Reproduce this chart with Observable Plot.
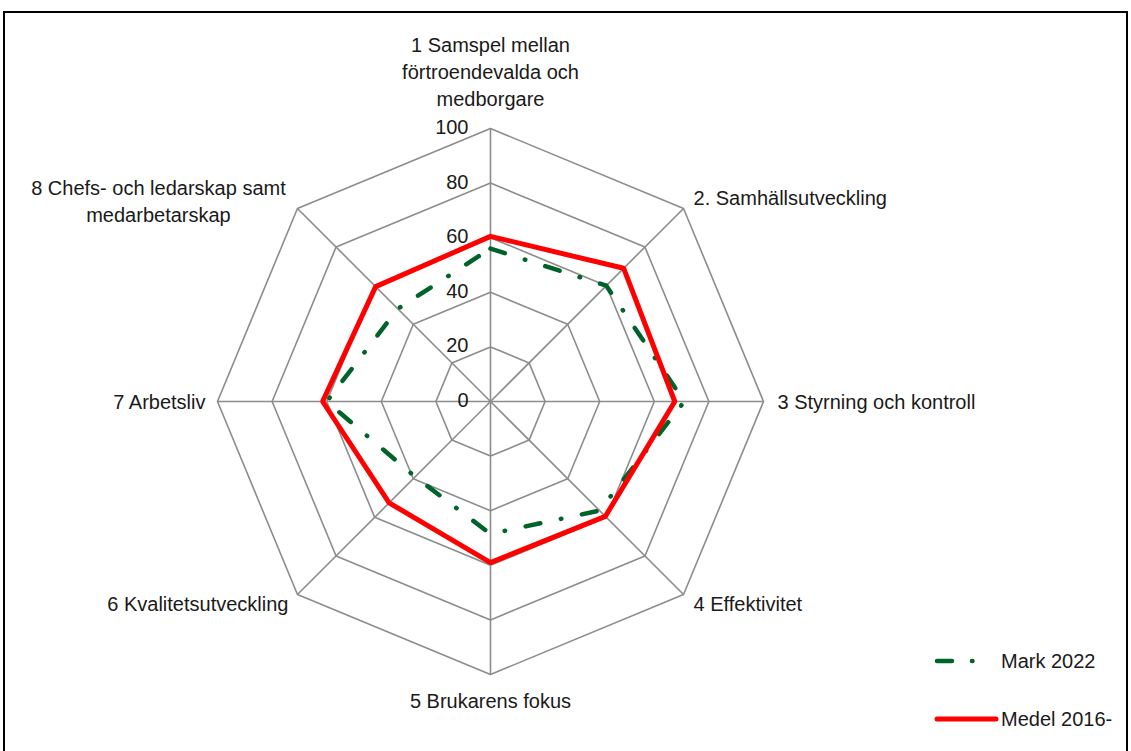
<!DOCTYPE html>
<html>
<head>
<meta charset="utf-8">
<script src="https://cdn.jsdelivr.net/npm/d3@7"></script>
<script src="https://cdn.jsdelivr.net/npm/@observablehq/plot@0.6"></script>
<style>
  html, body { margin: 0; padding: 0; background: #fff; overflow: hidden; }
  #wrap { position: relative; width: 1131px; height: 751px; }
  #frame { position: absolute; left: 3px; top: 11px; width: 1125px; height: 800px; border: 2px solid #000; box-sizing: border-box; pointer-events: none; }
  #legend { position: absolute; left: 920px; top: 640px; font-family: "Liberation Sans", Arial, sans-serif; font-size: 20px; color: #1a1a1a; }
  svg text { font-family: "Liberation Sans", Arial, sans-serif; }
</style>
</head>
<body>
<div id="wrap">
  <div id="chart"></div>
  <div id="frame"></div>
  <svg id="legend" width="211" height="111"></svg>
</div>
<script>
// ---- data ----
const categories = [
  "1 Samspel mellan\nförtroendevalda och\nmedborgare",
  "2. Samhällsutveckling",
  "3 Styrning och kontroll",
  "4 Effektivitet",
  "5 Brukarens fokus",
  "6 Kvalitetsutveckling",
  "7 Arbetsliv",
  "8 Chefs- och ledarskap samt\nmedarbetarskap"
];
const mark2022 = [56, 60, 71, 56.5, 48.5, 39, 60, 48];
const medel = [60.5, 69, 67.5, 59.5, 59, 52.5, 61.5, 59.5];
const tickValues = [0, 20, 40, 60, 80, 100];
const gridLevels = [20, 40, 60, 80, 100];
const seriesNames = ["Mark 2022", "Medel 2016-"];

// ---- layout ----
const W = 1131, H = 751;
const cx = 490, cy = 401, k = 2.73; // centre pixel & pixels per unit
const n = categories.length;
const ang = i => i * 2 * Math.PI / n;
const pt = (v, i) => ({x: v * Math.sin(ang(i)), y: v * Math.cos(ang(i))});
const closed = vals => [...vals, vals[0]].map((v, j) => pt(v, j % n));

const gridColor = "#8c8c8c";
const green = "#00632a";
const red = "#ff0000";
const textColor = "#1a1a1a";

const ringData = gridLevels.flatMap(l =>
  d3.range(n + 1).map(j => ({...pt(l, j % n), l})));
const spokes = categories.map((c, i) => ({x1: 0, y1: 0, x2: pt(100, i).x, y2: pt(100, i).y}));

const labelStyle = [
  {textAnchor: "middle", dx: 0, dy: -58},
  {textAnchor: "start", dx: 10, dy: -12},
  {textAnchor: "start", dx: 14, dy: -1},
  {textAnchor: "start", dx: 10, dy: 8},
  {textAnchor: "middle", dx: 0, dy: 25},
  {textAnchor: "end", dx: -9, dy: 8},
  {textAnchor: "end", dx: -12, dy: -1},
  {textAnchor: "middle", dx: -139, dy: -9}
];

const labelMarks = categories.map((c, i) =>
  Plot.text([c], {
    x: () => pt(100, i).x,
    y: () => pt(100, i).y,
    text: d => d,
    lineAnchor: "middle",
    lineHeight: 1.35,
    fontSize: 20,
    fill: textColor,
    ...labelStyle[i]
  }));

const chart = Plot.plot({
  width: W,
  height: H,
  margin: 0,
  x: {domain: [(0 - cx) / k, (W - cx) / k], range: [0, W], axis: null},
  y: {domain: [(cy - H) / k, cy / k], range: [H, 0], axis: null},
  marks: [
    Plot.line(ringData, {x: "x", y: "y", z: "l", stroke: gridColor, strokeWidth: 1.6}),
    Plot.link(spokes, {x1: "x1", y1: "y1", x2: "x2", y2: "y2", stroke: gridColor, strokeWidth: 1.6}),
    Plot.line(closed(mark2022), {x: "x", y: "y", stroke: green, strokeWidth: 4.5,
      strokeDasharray: "15 21 0.5 21", strokeLinecap: "round", strokeLinejoin: "round"}),
    Plot.line(closed(medel), {x: "x", y: "y", stroke: red, strokeWidth: 5, strokeLinejoin: "miter"}),
    Plot.text(tickValues, {x: () => 0, y: d => d, text: d => String(d), textAnchor: "end",
      lineAnchor: "middle", dx: -22, dy: -1, fontSize: 20, fill: textColor}),
    ...labelMarks
  ]
});
document.getElementById("chart").appendChild(chart);

// ---- legend ----
const lg = d3.select("#legend");
const items = [
  {name: seriesNames[0], color: green, dash: "15 20 0.5 200", w: 4.5, y: 21, cap: "round", x1: 17, x2: 77},
  {name: seriesNames[1], color: red, dash: null, w: 5, y: 79, cap: "round", x1: 17, x2: 76}
];
items.forEach(it => {
  lg.append("line").attr("x1", it.x1).attr("x2", it.x2).attr("y1", it.y).attr("y2", it.y)
    .attr("stroke", it.color).attr("stroke-width", it.w).attr("stroke-linecap", it.cap)
    .attr("stroke-dasharray", it.dash);
  lg.append("text").attr("x", 81).attr("y", it.y).attr("dy", "0.35em")
    .attr("font-size", 20).attr("fill", textColor).text(it.name);
});
</script>
</body>
</html>
